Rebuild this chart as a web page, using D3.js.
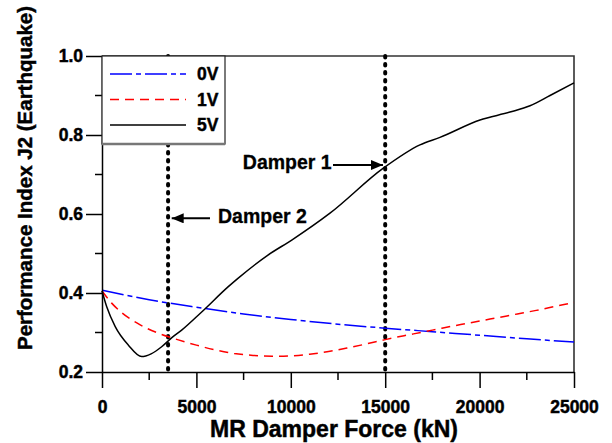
<!DOCTYPE html>
<html>
<head>
<meta charset="utf-8">
<script src="https://cdn.jsdelivr.net/npm/d3@7"></script>
<style>
  body { margin: 0; background: #fff; }
  svg { display: block; font-family: "Liberation Sans", Arial, sans-serif; }
  .heavy { font-family: "Liberation Sans", Arial, sans-serif; font-weight: bold; fill: #000; stroke: #000; stroke-width: 0.45px; }
</style>
</head>
<body>
<div id="chart"></div>
<script>
// data
var force0V = [0, 2500, 5000, 7500, 10000, 12500, 15000, 17500, 20000, 22500, 25000];
var j2_0V = [0.407, 0.383, 0.364, 0.347, 0.333, 0.321, 0.311, 0.302, 0.293, 0.284, 0.276];

var force1V = [0, 500, 1000, 2000, 3000, 4000, 5000, 6000, 7000, 8000, 9000, 10000, 11000, 12000, 13000,
  14000, 15000, 16000, 17000, 18000, 19000, 20000, 21000, 22000, 23000, 24000, 25000];
var j2_1V = [0.405, 0.375, 0.352, 0.320, 0.298, 0.282, 0.268, 0.256, 0.247, 0.242, 0.240, 0.241, 0.245,
  0.252, 0.261, 0.271, 0.282, 0.292, 0.301, 0.311, 0.320, 0.329, 0.338, 0.347, 0.356, 0.366, 0.376];

var force5V = [0, 250, 700, 1400, 2100, 2600, 3160, 3700, 4220, 5280, 6690, 7200, 8790, 10050, 12075,
  14900, 16840, 17900, 20020, 21610, 22670, 23730, 25000];
var j2_5V = [0.405, 0.365, 0.315, 0.268, 0.239, 0.246, 0.264, 0.287, 0.306, 0.352, 0.416, 0.437, 0.496,
  0.534, 0.602, 0.716, 0.775, 0.794, 0.838, 0.858, 0.874, 0.900, 0.932];

var seriesNames = ["0V", "1V", "5V"];
var xTicks = [0, 5000, 10000, 15000, 20000, 25000];
var xMinor = [2500, 7500, 12500, 17500, 22500];
var yTicks = [0.2, 0.4, 0.6, 0.8, 1.0];
var yMinor = [0.3, 0.5, 0.7, 0.9];

var damperNames = ["Damper 1", "Damper 2"];
var damperForce = [15000, 3500];
// arrow tail/tip and label anchor, in data units
var arrowFrom = [[12235, 0.724], [5720, 0.589]];
var arrowTo = [[14883, 0.724], [3692, 0.589]];
var labelAt = [[12166, 0.714], [6144, 0.576]];

var svgWidth = 612;
var svgHeight = 443;
var margin = { top: 56, right: 38, bottom: 71, left: 102 };
var width = svgWidth - margin.left - margin.right;
var height = svgHeight - margin.top - margin.bottom;

var svg = d3.select("#chart").append("svg")
  .attr("width", svgWidth)
  .attr("height", svgHeight);

var g = svg.append("g")
  .attr("transform", `translate(${margin.left}, ${margin.top})`);

var x = d3.scaleLinear().domain([0, 25000]).range([0, width]);
var y = d3.scaleLinear().domain([0.2, 1.0]).range([height, 0]);

// frame top and right
g.append("path")
  .attr("d", `M0,0H${width}V${height}`)
  .attr("fill", "none")
  .attr("stroke", "#333")
  .attr("stroke-width", 1.6);

// damper dotted verticals
g.selectAll(".damper")
  .data(damperForce)
  .enter()
  .append("line")
  .attr("x1", d => x(d))
  .attr("x2", d => x(d))
  .attr("y1", y(1.0))
  .attr("y2", y(0.2))
  .attr("stroke", "#000")
  .attr("stroke-width", 4)
  .attr("stroke-linecap", "round")
  .attr("stroke-dasharray", "1.6,6.4");

// curves
var series = [
  { xs: force0V, ys: j2_0V, color: "#0000ff", dash: "22,4,5,4", w: 1.5 },
  { xs: force1V, ys: j2_1V, color: "#ff0000", dash: "9,6", w: 1.5 },
  { xs: force5V, ys: j2_5V, color: "#000", dash: null, w: 1.5 }
];

var line = d3.line()
  .x(d => x(d[0]))
  .y(d => y(d[1]))
  .curve(d3.curveMonotoneX);

series.forEach(function(s) {
  g.append("path")
    .datum(s.xs.map((v, i) => [v, s.ys[i]]))
    .attr("d", line)
    .attr("fill", "none")
    .attr("stroke", s.color)
    .attr("stroke-width", s.w)
    .attr("stroke-dasharray", s.dash);
});

// axes
var xAxis = g.append("g")
  .attr("transform", `translate(0, ${height})`)
  .call(d3.axisBottom(x).tickValues(xTicks).tickSize(16).tickSizeOuter(0).tickFormat(d3.format("d")));
xAxis.append("g").selectAll("line")
  .data(xMinor).enter().append("line")
  .attr("x1", d => x(d)).attr("x2", d => x(d))
  .attr("y1", 0).attr("y2", 8)
  .attr("stroke", "#000");
xAxis.selectAll("text")
  .attr("y", 41).attr("dy", 0)
  .attr("class", "heavy")
  .attr("font-size", 17.5);

var yAxis = g.append("g")
  .call(d3.axisLeft(y).tickValues(yTicks).tickSize(16).tickSizeOuter(0).tickPadding(3).tickFormat(d3.format(".1f")));
yAxis.append("g").selectAll("line")
  .data(yMinor).enter().append("line")
  .attr("y1", d => y(d)).attr("y2", d => y(d))
  .attr("x1", 0).attr("x2", -7)
  .attr("stroke", "#000");
yAxis.selectAll("text")
  .attr("class", "heavy")
  .attr("font-size", 17.5);

[xAxis, yAxis].forEach(function(a) {
  a.selectAll("path, line").attr("stroke", "#000").attr("stroke-width", 1.5);
});

// axis titles
svg.append("text")
  .attr("class", "heavy")
  .attr("x", margin.left + width / 2 - 4)
  .attr("y", 437)
  .attr("text-anchor", "middle")
  .attr("font-size", 23)
  .text("MR Damper Force (kN)");

svg.append("text")
  .attr("class", "heavy")
  .attr("transform", "rotate(-90)")
  .attr("x", -178)
  .attr("y", 32)
  .attr("text-anchor", "middle")
  .attr("font-size", 20.5)
  .text("Performance Index J2 (Earthquake)");

// legend
var legend = g.append("g");
legend.append("rect")
  .attr("x", 0).attr("y", 0)
  .attr("width", 123).attr("height", 88)
  .attr("fill", "#fff")
  .attr("stroke", "#222")
  .attr("stroke-width", 1.2);
legend.append("line")
  .attr("x1", 0).attr("x2", 123)
  .attr("y1", 88).attr("y2", 88)
  .attr("stroke", "#777")
  .attr("stroke-width", 2.5);

seriesNames.forEach(function(name, i) {
  var ly = 18 + i * 25.5;
  legend.append("line")
    .attr("x1", 8).attr("x2", 84)
    .attr("y1", ly).attr("y2", ly)
    .attr("stroke", series[i].color)
    .attr("stroke-width", 1.5)
    .attr("stroke-dasharray", series[i].dash);
  legend.append("text")
    .attr("class", "heavy")
    .attr("x", 95).attr("y", ly + 6)
    .attr("font-size", 17.5)
    .text(name);
});

// damper annotations
g.append("defs").append("marker")
  .attr("id", "head")
  .attr("viewBox", "0 0 12 10")
  .attr("refX", 12).attr("refY", 5)
  .attr("markerWidth", 12).attr("markerHeight", 10)
  .attr("markerUnits", "userSpaceOnUse")
  .attr("orient", "auto")
  .append("path")
  .attr("d", "M0,0L12,5L0,10Z")
  .attr("fill", "#000");

damperNames.forEach(function(name, i) {
  g.append("line")
    .attr("x1", x(arrowFrom[i][0])).attr("y1", y(arrowFrom[i][1]))
    .attr("x2", x(arrowTo[i][0])).attr("y2", y(arrowTo[i][1]))
    .attr("stroke", "#000")
    .attr("stroke-width", 2)
    .attr("marker-end", "url(#head)");
  g.append("text")
    .attr("class", "heavy")
    .attr("x", x(labelAt[i][0])).attr("y", y(labelAt[i][1]))
    .attr("text-anchor", i === 0 ? "end" : "start")
    .attr("font-size", 19.5)
    .style("stroke-width", "0.3px")
    .text(name);
});
</script>
</body>
</html>
